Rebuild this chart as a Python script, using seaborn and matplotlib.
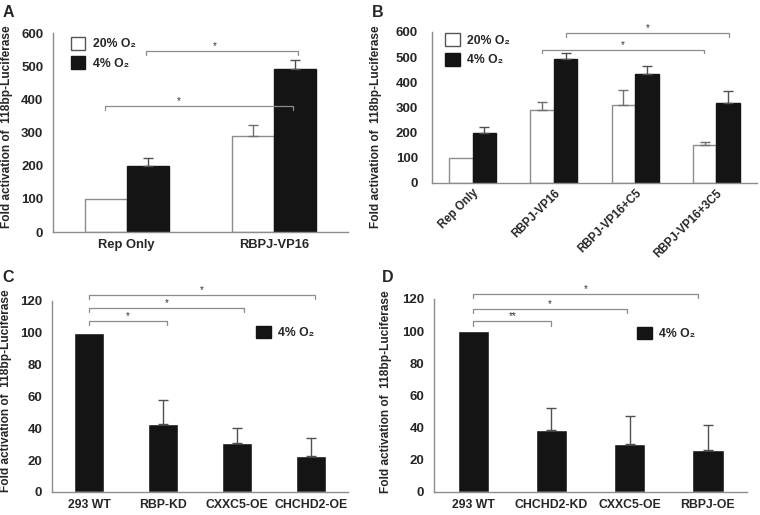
import pandas as pd
import numpy as np
import matplotlib.pyplot as plt
import seaborn as sns
from matplotlib.patches import Patch

# ---- data ----
a_groups = ["Rep Only", "RBPJ-VP16"]
a_20 = [100, 290]
a_20_err = [0, 32]
a_4 = [200, 490]
a_4_err = [22, 28]

b_groups = ["Rep Only", "RBPJ-VP16", "RBPJ-VP16+C5", "RBPJ-VP16+3C5"]
b_20 = [100, 291, 311, 150]
b_20_err = [0, 32, 57, 13]
b_4 = [199, 491, 433, 318]
b_4_err = [25, 27, 32, 48]

c_groups = ["293 WT", "RBP-KD", "CXXC5-OE", "CHCHD2-OE"]
c_4 = [100, 43, 30.5, 22.5]
c_4_err = [0, 14.5, 10, 11.5]

d_groups = ["293 WT", "CHCHD2-KD", "CXXC5-OE", "RBPJ-OE"]
d_4 = [100, 38.5, 30, 26]
d_4_err = [0, 14, 17.5, 15.5]

conditions = ["20% O\u2082", "4% O\u2082"]
ylab = "Fold activation of  118bp-Luciferase"

sns.set_theme(style="white")
plt.rcParams["font.family"] = ["Liberation Sans", "DejaVu Sans"]

GRAY = "#8c8c8c"
BLACK = "#141414"

fig = plt.figure(figsize=(7.6, 5.15), dpi=100)
axA = fig.add_axes([0.0697, 0.5495, 0.388, 0.3864])
axB = fig.add_axes([0.5684, 0.6447, 0.4276, 0.2932])
axC = fig.add_axes([0.0684, 0.0447, 0.3895, 0.3709])
axD = fig.add_axes([0.5711, 0.0447, 0.4118, 0.3748])


def long_df(groups, v20, v4):
    return pd.DataFrame({
        "group": groups * 2,
        "value": list(v20) + list(v4),
        "cond": [conditions[0]] * len(groups) + [conditions[1]] * len(groups),
    })


def add_err(ax, container, errs, color):
    for bar, e in zip(container, errs):
        if e <= 0:
            continue
        ax.errorbar(bar.get_x() + bar.get_width() / 2, bar.get_height(),
                    yerr=[[0], [e]], fmt="none", ecolor=color, elinewidth=1,
                    capsize=3.5, capthick=1, zorder=1)


def style_axis(ax, n, ymax, ystep, ypad=4, label_xy=(-0.135, 0.5)):
    for s in ["top", "right"]:
        ax.spines[s].set_visible(False)
    for s in ["left", "bottom"]:
        ax.spines[s].set_color(GRAY)
        ax.spines[s].set_linewidth(1)
    ax.set_xlim(-0.5, n - 0.5)
    ax.set_ylim(0, ymax)
    ax.set_yticks(np.arange(0, ymax + 1, ystep))
    ax.set_xticks(np.arange(-0.5, n), minor=True)
    ax.tick_params(axis="x", which="major", length=0, pad=5)
    ax.tick_params(axis="x", which="minor", length=4, color=GRAY, direction="out")
    ax.tick_params(axis="y", length=3, color=GRAY, direction="out", pad=ypad)
    for t in ax.get_yticklabels():
        t.set_fontweight("bold")
        t.set_fontsize(9.5)
    ax.set_xlabel("")
    ax.set_ylabel(ylab, fontsize=8.6, fontweight="bold")
    ax.yaxis.set_label_coords(*label_xy)


def bracket(ax, x0, x1, y, drop, label, tx=None):
    ax.plot([x0, x0, x1, x1], [y - drop, y, y, y - drop], color=GRAY,
            lw=0.9, clip_on=False)
    ax.text((x0 + x1) / 2 if tx is None else tx, y, label, ha="center",
            va="bottom", fontsize=7, color="#333333")


def pair_bars(ax, df, width, errs20, errs4):
    sns.barplot(data=df, x="group", y="value", hue="cond", palette=["white", BLACK],
                width=width, saturation=1, errorbar=None, legend=False, ax=ax)
    for bar in ax.containers[0]:
        bar.set_edgecolor(GRAY)
        bar.set_linewidth(1)
    for bar in ax.containers[1]:
        bar.set_edgecolor(BLACK)
    add_err(ax, ax.containers[0], errs20, "#707070")
    add_err(ax, ax.containers[1], errs4, "#505050")


# ---- A ----
pair_bars(axA, long_df(a_groups, a_20, a_4), 0.57, a_20_err, a_4_err)
style_axis(axA, 2, 600, 100, label_xy=(-0.136, 0.53))
for t in axA.get_xticklabels():
    t.set_fontweight("bold")
    t.set_fontsize(9.3)
bracket(axA, -0.15, 1.13, 380, 12, "*", tx=0.35)
bracket(axA, 0.13, 1.16, 545, 12, "*", tx=0.6)

# ---- B ----
pair_bars(axB, long_df(b_groups, b_20, b_4), 0.58, b_20_err, b_4_err)
style_axis(axB, 4, 600, 100, ypad=7, label_xy=(-0.154, 0.37))
for t in axB.get_xticklabels():
    t.set_fontweight("bold")
    t.set_fontsize(8.3)
    t.set_rotation(45)
    t.set_ha("right")
    t.set_rotation_mode("anchor")
axB.tick_params(axis="x", which="major", pad=3)
bracket(axB, 0.85, 2.85, 530, 14, "*")
bracket(axB, 1.15, 3.15, 596, 14, "*")

# ---- C & D ----
for ax, groups, vals, errs, brs, lxy in [
    (axC, c_groups, c_4, c_4_err,
     [(1.05, 107.5, "*"), (2.1, 115.5, "*"), (3.05, 124, "*")], (-0.135, 0.53)),
    (axD, d_groups, d_4, d_4_err,
     [(1.0, 106, "**"), (1.97, 114, "*"), (2.87, 123, "*")], (-0.134, 0.52)),
]:
    sns.barplot(x=groups, y=vals, color=BLACK, width=0.4, saturation=1,
                errorbar=None, ax=ax)
    add_err(ax, ax.containers[0], errs, "#505050")
    style_axis(ax, 4, 120, 20, label_xy=lxy)
    for t in ax.get_xticklabels():
        t.set_fontweight("bold")
        t.set_fontsize(8.8)
    for x1, y, lab in brs:
        bracket(ax, 0.0, x1, y, 2.6, lab)

# ---- legends ----
h20 = Patch(facecolor="white", edgecolor="#555555", linewidth=1, label=conditions[0])
h4 = Patch(facecolor=BLACK, edgecolor=BLACK, label=conditions[1])
leg_kw = dict(frameon=False, handlelength=1.2, handleheight=1.2, handletextpad=0.6,
              borderpad=0, borderaxespad=0, labelspacing=0.5,
              prop={"weight": "bold", "size": 8.8})
axA.legend(handles=[h20, h4], loc="upper left", bbox_to_anchor=(0.06, 0.98), **leg_kw)
axB.legend(handles=[h20, h4], loc="upper left", bbox_to_anchor=(0.04, 0.99), **leg_kw)
h4b = Patch(facecolor=BLACK, edgecolor=BLACK, label=conditions[1])
axC.legend(handles=[h4b], loc="upper left", bbox_to_anchor=(0.69, 0.87), **leg_kw)
h4c = Patch(facecolor=BLACK, edgecolor=BLACK, label=conditions[1])
axD.legend(handles=[h4c], loc="upper left", bbox_to_anchor=(0.65, 0.855), **leg_kw)

# ---- panel letters ----
for x, y, s in [(0.003, 0.99, "A"), (0.489, 0.99, "B"), (0.003, 0.476, "C"), (0.502, 0.476, "D")]:
    fig.text(x, y, s, fontsize=11.5, fontweight="bold", va="top", ha="left")

plt.savefig("out.png", dpi=100)
